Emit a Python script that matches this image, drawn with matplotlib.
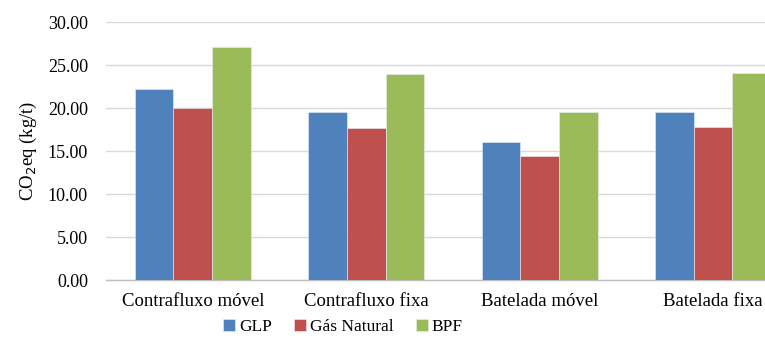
import matplotlib
matplotlib.use("Agg")
import matplotlib.pyplot as plt
import numpy as np

categories = ["Contrafluxo móvel", "Contrafluxo fixa", "Batelada móvel", "Batelada fixa"]
series_names = ["GLP", "Gás Natural", "BPF"]
glp = [22.2, 19.5, 16.0, 19.6]
gas_natural = [20.0, 17.7, 14.4, 17.8]
bpf = [27.1, 24.0, 19.5, 24.1]
colors = ["#4F81BD", "#C0504D", "#9BBB59"]
yticks = [0, 5, 10, 15, 20, 25, 30]

plt.rcParams["font.family"] = ["Liberation Serif", "DejaVu Serif"]

fig = plt.figure(figsize=(7.65, 3.42), dpi=100)
# plot area runs past the right edge of the canvas
ax = fig.add_axes([0.1386, 0.181, 0.907, 0.7544])

x = np.arange(len(categories))
bw = 0.223
handles = []
for i, (vals, name, c) in enumerate(zip([glp, gas_natural, bpf], series_names, colors)):
    h = ax.bar(x + (i - 1) * bw, vals, width=bw, color=c, edgecolor="#e8eef8",
               linewidth=0.4, label=name, zorder=3)
    handles.append(h)

ax.set_xlim(-0.5, len(categories) - 0.5)
ax.set_ylim(0, 30)
ax.set_yticks(yticks)
ax.set_yticklabels([f"{v:.2f}" for v in yticks], fontsize=13)
ax.set_xticks(x)
ax.set_xticklabels(categories, fontsize=13.5)
ax.tick_params(axis="both", length=0)
ax.tick_params(axis="y", pad=13)
ax.tick_params(axis="x", pad=9)

ax.grid(axis="y", color="#d9d9d9", linewidth=1.0, zorder=0)
for s in ["top", "right", "left"]:
    ax.spines[s].set_visible(False)
ax.spines["bottom"].set_color("#bfbfbf")
ax.spines["bottom"].set_linewidth(1.0)

ax.set_ylabel("CO$_2$eq (kg/t)", fontsize=13.5, labelpad=6)

fig.legend(handles, series_names, loc="center", bbox_to_anchor=(343 / 765, 1 - 327 / 342),
           ncol=3, frameon=False, fontsize=12.5, handlelength=0.7, handleheight=0.7,
           handletextpad=0.2, columnspacing=1.3)

fig.savefig("out.png", dpi=100)
